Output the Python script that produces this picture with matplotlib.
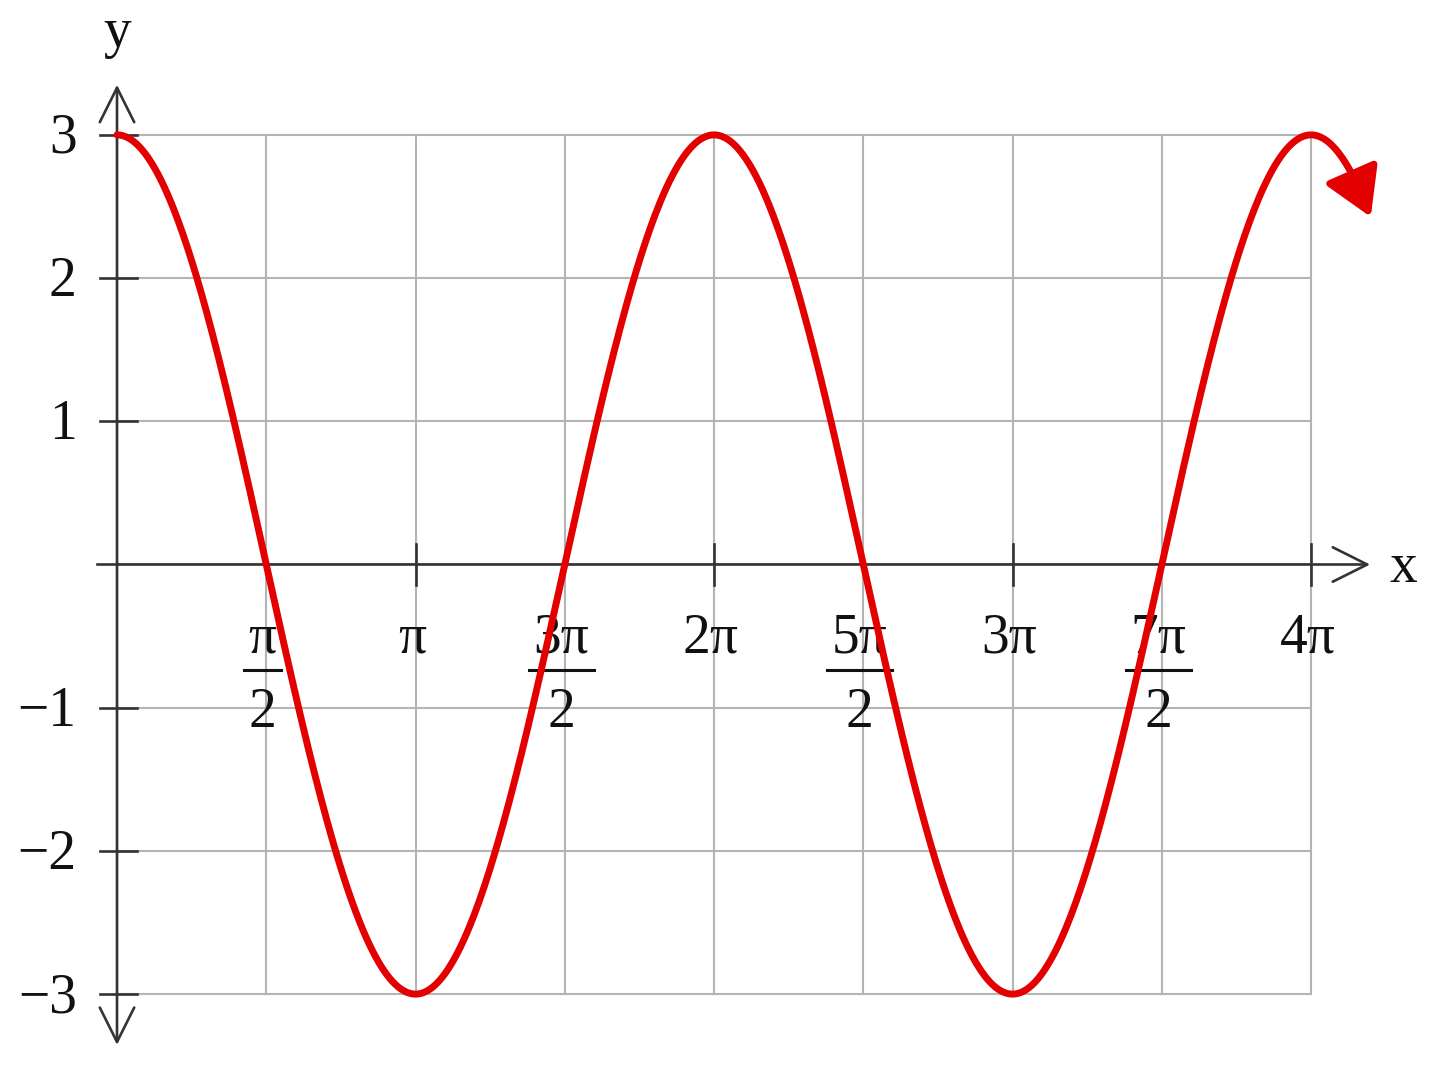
import numpy as np
import matplotlib
matplotlib.use('Agg')
import matplotlib.pyplot as plt

# chart values
amplitude = 3
x_end = 4.2 * np.pi          # curve runs a bit past 4*pi and ends in an arrow
y_ticks = [-3, -2, -1, 1, 2, 3]
y_tick_labels = ['\u22123', '\u22122', '\u22121', '1', '2', '3']
x_half_ticks = [np.pi / 2, 3 * np.pi / 2, 5 * np.pi / 2, 7 * np.pi / 2]
x_half_nums = ['\u03c0', '3\u03c0', '5\u03c0', '7\u03c0']
x_whole_ticks = [np.pi, 2 * np.pi, 3 * np.pi, 4 * np.pi]
x_whole_labels = ['\u03c0', '2\u03c0', '3\u03c0', '4\u03c0']
grid_x = np.arange(0, 9) * np.pi / 2
grid_y = np.arange(-3, 4)

curve_x = np.linspace(0, x_end, 800)
curve_y = amplitude * np.cos(curve_x)

font = dict(family=['Liberation Serif', 'DejaVu Serif'], size=40, color='#111111')
axis_col = '#333333'
grid_col = '#b4b4b4'
red = '#e30000'

fig = plt.figure(figsize=(14.4, 10.71), dpi=100)
ax = fig.add_axes([0, 0, 1, 1])
ax.set_xlim(-0.392 * np.pi, 4.432 * np.pi)
ax.set_ylim(-3.537, 3.942)
ax.axis('off')

# grid
for gx in grid_x:
    ax.plot([gx, gx], [grid_y[0], grid_y[-1]], color=grid_col, lw=1.5, zorder=1)
for gy in grid_y:
    ax.plot([grid_x[0], grid_x[-1]], [gy, gy], color=grid_col, lw=1.5, zorder=1)

# axes with open arrow heads
arrow = dict(arrowstyle='->,head_length=0.4,head_width=0.2', mutation_scale=62,
             color=axis_col, lw=1.9, shrinkA=0, shrinkB=0)
ax.plot([-0.067 * np.pi, 0], [0, 0], color=axis_col, lw=1.9, zorder=2)
ax.annotate('', xy=(4.198 * np.pi, 0), xytext=(0, 0), arrowprops=arrow, zorder=2)
ax.annotate('', xy=(0, 3.35), xytext=(0, 0), arrowprops=arrow, zorder=2)
ax.annotate('', xy=(0, -3.355), xytext=(0, 0), arrowprops=arrow, zorder=2)

# tick marks
for t in y_ticks:
    ax.plot([-0.057 * np.pi, 0.067 * np.pi], [t, t], color=axis_col, lw=1.9, zorder=2)
for t in x_whole_ticks:
    ax.plot([t, t], [-0.14, 0.14], color=axis_col, lw=1.9, zorder=2)

# y tick labels
for t, lab in zip(y_ticks, y_tick_labels):
    ax.text(-0.135 * np.pi, t - 0.125, lab, ha='right', va='baseline', **font)

# x tick labels
shift = -0.012 * np.pi
for t, lab in zip(x_whole_ticks, x_whole_labels):
    ax.text(t + shift, -0.618, lab, ha='center', va='baseline', **font)

fig.canvas.draw()
renderer = fig.canvas.get_renderer()
inv = ax.transData.inverted()
for t, num in zip(x_half_ticks, x_half_nums):
    txt = ax.text(t + shift, -0.618, num, ha='center', va='baseline', **font)
    ax.text(t + shift, -1.135, '2', ha='center', va='baseline', **font)
    bb = txt.get_window_extent(renderer)
    (x0, _), (x1, _) = inv.transform([(bb.x0, 0), (bb.x1, 0)])
    pad = 0.015 * np.pi
    ax.plot([x0 - pad, x1 + pad], [-0.737, -0.737], color='#111111', lw=2.2, zorder=2)

# axis names
ax.text(0, 3.614, 'y', ha='center', va='baseline', **font)
ax.text(4.308 * np.pi, -0.122, 'x', ha='center', va='baseline', **font)

# the curve with a filled arrow head at its end
stop = curve_x <= x_end - 0.06 * np.pi
ax.plot(curve_x[stop], curve_y[stop], color=red, lw=5, solid_capstyle='round', zorder=4)
ax.annotate('', xy=(curve_x[-1], curve_y[-1]),
            xytext=(curve_x[stop][-1], curve_y[stop][-1]),
            arrowprops=dict(arrowstyle='-|>,head_length=0.5,head_width=0.3',
                            mutation_scale=58, color=red, lw=5,
                            shrinkA=0, shrinkB=0),
            zorder=4)

fig.savefig('out.png', dpi=100)
